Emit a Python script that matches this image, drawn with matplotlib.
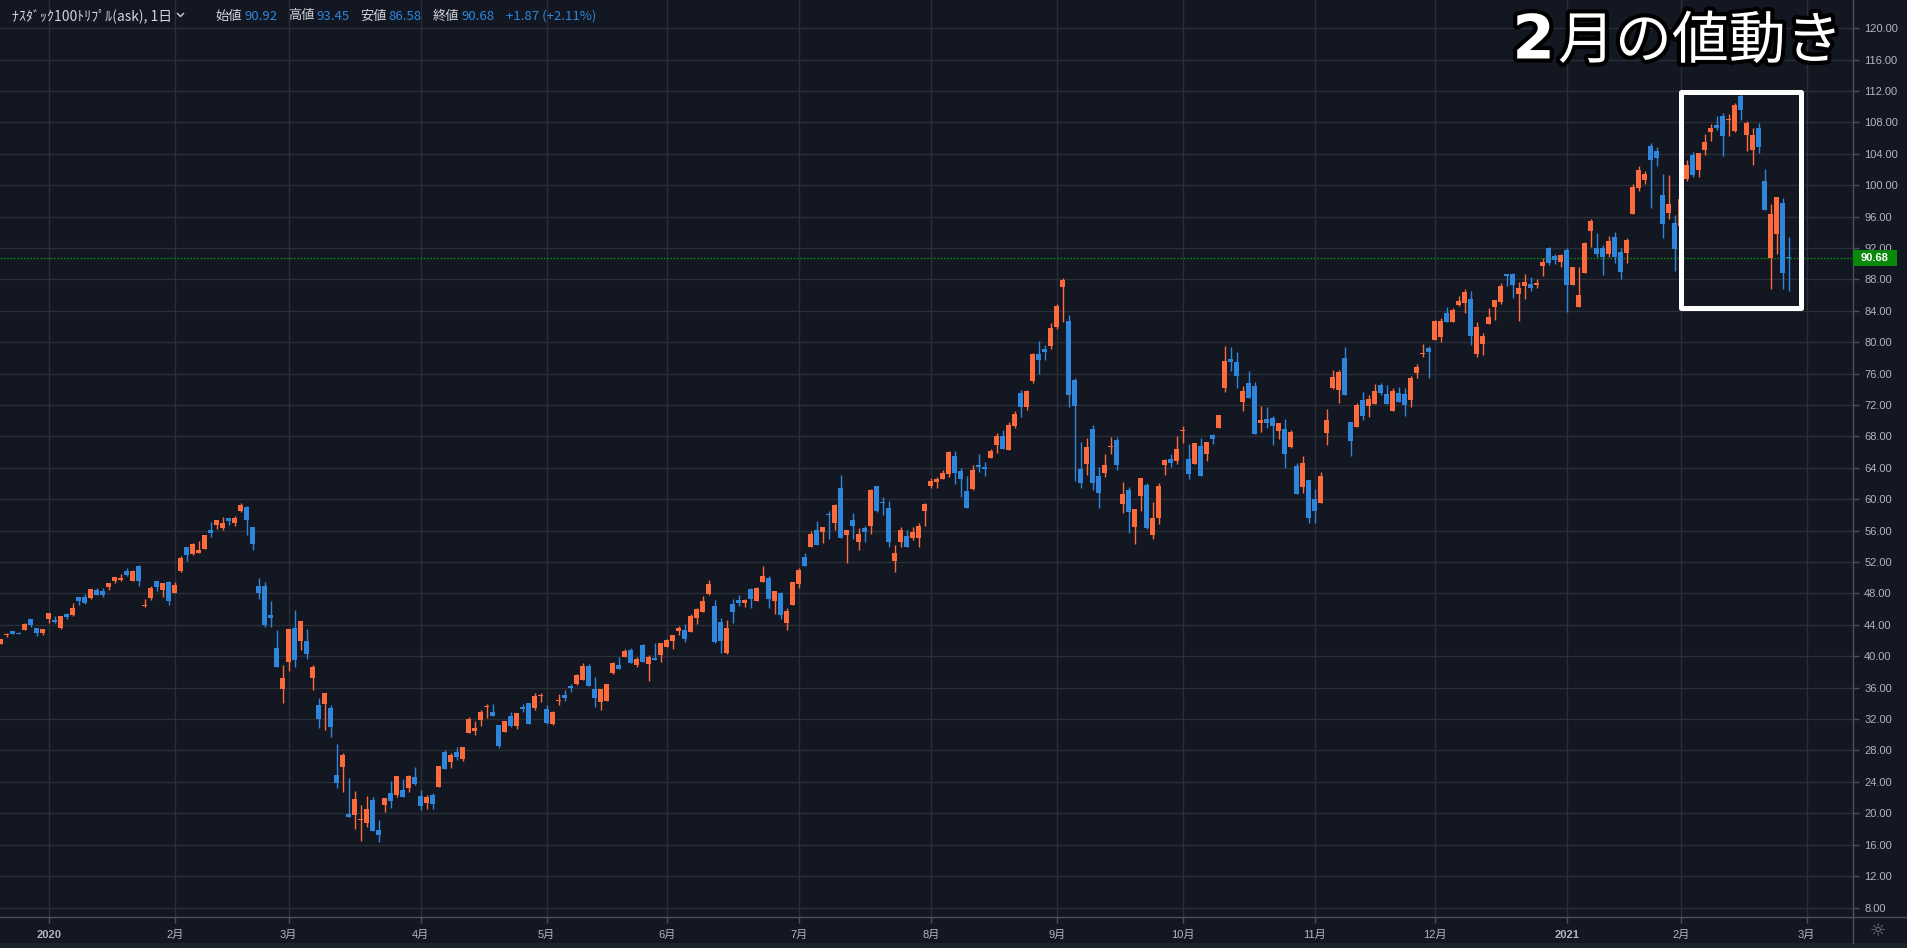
import numpy as np
import matplotlib
matplotlib.use('Agg')
import matplotlib.pyplot as plt
from matplotlib.patches import Rectangle
from matplotlib.lines import Line2D
import matplotlib.patheffects as pe

plt.rcParams['font.family'] = ['Noto Sans CJK JP', 'DejaVu Sans']

# ---------------- data (daily OHLC, Dec-2019 .. 26-Feb-2021) ----------------
opens = [41.6, 42.72, 43.23, 43.0, 43.35, 44.76, 43.6, 42.97, 44.76, 44.63,
         43.61, 45.35, 45.27, 47.56, 47.56, 47.39, 48.41, 48.32, 48.83, 49.6,
         49.72, 50.87, 49.6, 51.51, 46.42, 47.43, 49.6, 48.45, 49.47, 48.07,
         50.87, 53.93, 53.04, 53.16, 53.67, 56.09, 56.73, 56.35, 57.62, 56.99,
         58.51, 59.02, 56.48, 48.96, 48.96, 45.27, 41.06, 35.84, 39.32, 43.61,
         41.95, 41.95, 37.24, 33.8, 33.93, 33.42, 24.88, 25.9, 19.92, 19.79,
         19.2, 18.77, 21.7, 17.88, 21.06, 22.59, 22.34, 22.97, 23.23, 24.63,
         22.21, 21.32, 22.34, 23.35, 27.81, 26.54, 27.81, 26.92, 30.23, 30.49,
         31.89, 33.57, 32.93, 31.28, 30.39, 32.42, 31.15, 33.57, 34.08, 33.44,
         34.93, 33.32, 31.41, 34.3, 35.1, 36.25, 36.5, 37.01, 38.79, 35.86,
         34.21, 34.34, 37.9, 38.92, 39.94, 40.83, 38.92, 41.47, 39.05, 39.81,
         40.2, 41.22, 41.98, 43.25, 43.38, 43.13, 44.91, 45.67, 47.97, 46.44,
         44.4, 40.4, 46.6, 47.11, 46.73, 48.51, 46.98, 49.4, 49.91, 46.98,
         48.0, 44.3, 46.47, 49.27, 52.71, 53.86, 56.03, 55.77, 58.05, 57.04,
         61.38, 55.39, 57.3, 54.62, 56.28, 56.54, 61.63, 59.65, 58.83, 52.08,
         54.62, 55.26, 55.01, 55.01, 58.57, 61.63, 62.14, 62.52, 63.16, 65.45,
         63.58, 61.04, 61.29, 64.35, 64.1, 65.24, 66.9, 68.04, 66.26, 69.32,
         73.52, 71.74, 75.05, 78.49, 79.13, 79.5, 81.93, 87.02, 82.69, 75.18,
         63.84, 64.48, 68.93, 62.95, 63.33, 66.72, 67.53, 59.38, 61.16, 56.45,
         60.4, 61.8, 55.43, 57.6, 64.35, 65.11, 64.86, 68.75, 65.11, 64.48,
         66.79, 65.78, 68.2, 69.09, 74.18, 77.88, 77.49, 72.4, 74.82, 74.44,
         69.72, 70.23, 70.36, 68.7, 68.96, 66.67, 64.25, 61.57, 62.46, 60.04,
         59.53, 68.45, 74.18, 73.93, 78.0, 69.85, 69.21, 72.65, 71.89, 72.14,
         74.56, 73.42, 71.25, 73.55, 73.42, 72.65, 76.1, 78.55, 79.28, 80.3,
         80.67, 83.69, 82.54, 84.71, 84.96, 85.47, 78.46, 79.74, 82.28, 84.45,
         85.09, 88.65, 88.65, 86.11, 87.13, 87.38, 87.25, 89.67, 91.97, 90.95,
         90.18, 91.71, 87.25, 84.45, 88.78, 94.13, 92.05, 92.05, 91.2, 93.37,
         91.55, 91.41, 96.37, 99.69, 100.7, 105.04, 104.4, 98.79, 96.5, 95.23,
         94.76, 100.83, 103.89, 101.98, 104.53, 106.82, 107.71, 108.86, 108.35, 106.95,
         111.41, 106.44, 104.53, 107.33, 100.58, 90.77, 93.83, 97.78, 90.92]
highs = [42.2, 42.97, 43.23, 43.08, 44.25, 44.76, 43.6, 43.48, 45.52, 45.18,
         45.14, 45.52, 46.79, 47.56, 47.94, 48.58, 48.7, 48.75, 49.34, 50.11,
         50.49, 51.25, 51.04, 51.63, 47.3, 48.96, 49.6, 49.34, 49.6, 49.47,
         52.78, 53.93, 54.44, 54.69, 55.46, 57.11, 57.37, 57.75, 57.62, 57.88,
         59.53, 59.15, 56.48, 49.98, 49.47, 47.05, 43.35, 38.9, 43.48, 45.9,
         44.5, 43.48, 38.9, 34.69, 35.33, 33.8, 28.83, 27.69, 24.5, 22.85,
         21.06, 22.2, 22.08, 19.15, 21.95, 24.12, 24.76, 24.37, 24.88, 25.9,
         22.97, 22.34, 22.59, 26.03, 28.07, 27.69, 28.45, 28.45, 32.27, 31.76,
         33.16, 33.95, 33.95, 31.28, 31.79, 32.93, 32.8, 33.95, 34.08, 35.35,
         35.35, 33.83, 33.06, 35.23, 35.74, 36.5, 37.77, 39.18, 39.05, 37.39,
         35.86, 36.5, 39.3, 39.94, 40.96, 41.09, 39.94, 41.6, 40.2, 41.73,
         41.72, 42.23, 42.74, 43.89, 44.14, 45.42, 46.18, 47.71, 49.75, 47.2,
         44.94, 44.56, 47.24, 47.87, 47.24, 48.76, 48.89, 51.44, 50.29, 48.38,
         48.13, 46.09, 49.4, 51.31, 53.1, 55.9, 57.17, 56.41, 58.45, 59.34,
         63.03, 56.15, 58.19, 56.28, 56.66, 61.25, 61.63, 60.23, 59.72, 54.24,
         56.41, 56.03, 56.41, 57.04, 59.47, 62.65, 62.9, 63.67, 66.09, 66.09,
         63.97, 62.95, 64.35, 65.75, 64.73, 66.39, 68.42, 68.81, 69.83, 71.23,
         73.9, 73.9, 78.62, 80.14, 79.63, 82.44, 84.86, 88.17, 83.46, 75.43,
         67.28, 67.79, 69.44, 64.09, 65.75, 67.92, 67.92, 62.18, 61.54, 58.74,
         62.69, 62.05, 59.64, 62.05, 65.11, 65.75, 68.04, 69.32, 67.02, 67.15,
         67.81, 67.3, 68.32, 70.74, 79.53, 79.41, 78.77, 74.44, 76.35, 74.95,
         71.89, 71.76, 70.62, 69.72, 70.23, 68.83, 64.63, 65.52, 62.46, 61.32,
         63.48, 71.51, 76.48, 76.48, 79.41, 69.85, 72.27, 73.67, 73.29, 74.69,
         74.82, 74.56, 74.18, 74.31, 74.18, 75.71, 77.24, 79.79, 79.53, 82.85,
         83.05, 84.45, 84.32, 85.85, 86.74, 86.49, 82.54, 81.14, 84.32, 85.34,
         87.5, 88.65, 88.78, 87.63, 88.65, 88.27, 88.0, 90.69, 92.1, 91.2,
         91.2, 91.97, 89.55, 89.55, 92.73, 95.75, 93.88, 92.35, 93.49, 94.0,
         91.95, 93.32, 100.2, 102.49, 101.85, 105.42, 104.91, 101.47, 101.34, 96.24,
         98.5, 103.25, 104.27, 104.14, 106.56, 107.84, 108.86, 109.24, 109.1, 110.51,
         111.66, 108.22, 107.33, 107.97, 102.11, 97.65, 98.54, 98.41, 93.45]
lows = [41.6, 42.5, 42.85, 42.9, 43.35, 43.78, 42.6, 42.7, 44.3, 44.29,
        43.53, 44.76, 45.14, 46.54, 46.67, 47.3, 47.81, 47.56, 48.45, 49.38,
        49.6, 50.23, 49.6, 48.96, 46.33, 47.18, 48.32, 47.56, 46.54, 48.07,
        50.74, 52.14, 52.91, 53.16, 53.67, 55.2, 56.22, 56.09, 56.73, 56.6,
        58.39, 55.46, 53.55, 47.3, 43.78, 43.78, 38.68, 34.1, 38.17, 38.68,
        40.8, 39.66, 35.71, 30.87, 30.62, 29.72, 23.23, 22.72, 19.53, 18.0,
        16.48, 18.26, 17.75, 16.35, 20.17, 20.68, 22.08, 22.08, 22.72, 23.61,
        20.42, 20.55, 20.55, 23.35, 25.65, 25.77, 26.79, 26.67, 30.23, 29.98,
        31.13, 32.17, 32.42, 28.35, 30.39, 31.02, 30.77, 32.93, 31.41, 33.19,
        34.2, 31.41, 31.28, 33.83, 34.34, 35.48, 36.37, 37.01, 36.25, 33.57,
        33.19, 34.34, 37.77, 38.41, 39.94, 39.18, 38.67, 39.3, 36.88, 39.56,
        39.3, 41.22, 40.96, 42.74, 41.85, 43.13, 44.14, 45.67, 47.84, 41.73,
        40.4, 40.3, 44.3, 46.35, 46.22, 46.09, 46.98, 49.4, 46.09, 45.45,
        44.81, 43.29, 46.47, 48.76, 51.44, 53.86, 54.24, 54.37, 55.0, 56.03,
        55.13, 51.82, 54.88, 53.6, 54.62, 55.64, 58.32, 57.94, 53.86, 50.68,
        53.86, 53.86, 54.75, 53.86, 56.54, 61.38, 61.38, 62.52, 62.78, 62.01,
        60.27, 58.87, 61.16, 63.46, 62.95, 65.24, 65.88, 66.39, 66.26, 69.06,
        70.46, 71.35, 74.79, 75.94, 77.72, 79.13, 81.67, 82.56, 71.74, 62.31,
        61.42, 63.07, 61.16, 58.87, 62.82, 65.75, 63.71, 58.23, 55.69, 54.28,
        58.49, 56.2, 54.92, 56.83, 63.07, 64.09, 64.48, 67.15, 62.56, 64.48,
        62.97, 64.88, 67.05, 69.09, 73.67, 76.35, 74.18, 71.25, 72.91, 68.32,
        68.58, 69.09, 66.92, 67.69, 63.99, 66.54, 60.68, 60.81, 56.99, 56.99,
        59.53, 66.92, 74.06, 72.27, 73.29, 65.52, 69.21, 70.11, 70.49, 72.14,
        73.29, 72.14, 71.25, 72.4, 70.62, 71.76, 75.46, 78.13, 75.46, 80.3,
        80.03, 82.54, 82.54, 84.58, 83.69, 79.61, 78.08, 78.34, 82.28, 82.79,
        84.83, 87.12, 85.6, 82.67, 85.47, 86.49, 86.87, 88.4, 89.8, 89.93,
        89.55, 83.81, 87.25, 84.45, 88.78, 92.1, 90.9, 88.53, 90.82, 90.06,
        88.0, 90.13, 96.37, 99.3, 100.2, 97.14, 102.49, 93.32, 95.74, 89.11,
        94.2, 100.58, 101.09, 101.09, 103.89, 105.67, 107.07, 103.76, 106.3, 106.82,
        108.35, 104.4, 102.62, 104.14, 96.88, 86.82, 91.28, 86.82, 86.58]
closes = [42.2, 42.78, 42.85, 42.9, 44.12, 43.95, 42.97, 43.48, 45.52, 44.33,
          45.14, 45.01, 46.16, 47.05, 46.79, 48.58, 47.81, 47.77, 49.34, 50.11,
          50.02, 50.36, 50.87, 49.6, 46.48, 48.7, 48.83, 49.34, 47.09, 49.09,
          52.53, 52.91, 54.31, 53.55, 55.46, 55.71, 57.37, 56.98, 57.24, 57.62,
          59.28, 57.37, 54.31, 48.03, 43.99, 44.93, 38.68, 37.24, 43.48, 39.53,
          44.5, 40.3, 38.64, 32.02, 35.33, 31.0, 23.86, 27.43, 19.53, 21.83,
          19.28, 20.55, 17.75, 17.24, 21.95, 21.57, 24.76, 22.08, 24.76, 23.74,
          20.93, 22.08, 21.19, 26.03, 25.65, 27.43, 27.18, 28.45, 32.0, 30.87,
          32.91, 33.65, 32.42, 28.6, 31.79, 31.15, 32.8, 33.32, 31.41, 34.97,
          35.01, 31.53, 32.93, 34.38, 34.72, 35.99, 37.65, 38.79, 36.25, 34.72,
          35.86, 36.5, 39.18, 38.41, 40.71, 39.18, 39.69, 39.3, 39.94, 39.56,
          41.72, 42.11, 42.74, 43.63, 42.23, 45.16, 46.06, 47.07, 49.24, 41.85,
          42.0, 43.54, 45.7, 46.73, 47.11, 47.24, 48.76, 50.17, 47.24, 48.38,
          45.32, 45.83, 49.4, 50.93, 51.44, 55.64, 54.24, 56.41, 57.95, 59.21,
          55.13, 56.03, 56.54, 55.64, 55.77, 61.12, 58.57, 59.55, 54.5, 53.22,
          56.15, 53.86, 55.77, 56.66, 59.34, 62.39, 62.52, 63.29, 65.96, 63.41,
          62.56, 58.87, 63.71, 64.09, 63.85, 66.13, 68.04, 66.39, 69.44, 70.84,
          71.74, 73.78, 78.49, 77.72, 78.74, 81.8, 84.6, 87.92, 73.27, 71.86,
          62.06, 66.64, 62.06, 60.78, 64.35, 66.82, 64.35, 60.65, 58.36, 58.74,
          62.69, 56.32, 57.6, 61.67, 64.99, 64.6, 66.39, 68.85, 63.2, 67.15,
          62.97, 67.3, 67.69, 70.74, 77.62, 77.49, 75.71, 73.8, 72.91, 68.32,
          70.1, 69.72, 69.34, 69.72, 65.78, 68.58, 60.68, 64.63, 57.62, 58.51,
          62.97, 70.11, 75.58, 76.22, 73.29, 67.43, 72.02, 70.62, 72.78, 73.8,
          73.55, 72.14, 73.8, 72.4, 72.02, 75.46, 76.86, 78.65, 78.77, 82.72,
          82.67, 82.54, 84.07, 85.21, 86.36, 80.76, 81.9, 80.76, 83.18, 85.34,
          87.12, 88.4, 87.25, 86.87, 87.63, 86.87, 87.5, 90.18, 90.06, 90.44,
          91.07, 87.25, 89.55, 85.98, 92.6, 95.49, 91.2, 90.9, 92.86, 90.82,
          89.0, 93.06, 99.81, 101.98, 101.47, 103.25, 103.5, 95.1, 97.65, 91.92,
          98.28, 102.62, 101.34, 104.14, 105.55, 107.33, 107.33, 106.31, 108.45, 110.26,
          109.62, 107.97, 106.44, 104.91, 96.88, 96.37, 98.54, 88.81, 90.68]

month_tick_index = [8, 29, 48, 70, 91, 111, 133, 155, 176, 197, 219, 239, 261, 280, 301]
month_tick_labels = ['2020', '2月', '3月', '4月', '5月', '6月', '7月', '8月',
                     '9月', '10月', '11月', '12月', '2021', '2月', '3月']
price_ticks = list(range(8, 121, 4))
last_price = 90.68
header_name = 'ﾅｽﾀﾞｯｸ100ﾄﾘﾌﾟﾙ(ask), 1日'
header_fields = [('始値', '90.92'), ('高値', '93.45'), ('安値', '86.58'), ('終値', '90.68')]
header_change = '+1.87 (+2.11%)'
title_text = ('2', '月の値動き')
highlight_x = (280.0, 300.0)
highlight_y = (84.34, 111.91)

# ---------------- style ----------------
W, H = 1907, 948
BG = '#131722'
GRID = '#2a2e39'
AXLINE = '#4c505b'
TXT = '#b2b5be'
UP = '#fd6a3c'
DOWN = '#2d86db'
GREEN = '#0a8a0a'

fig = plt.figure(figsize=(W / 100, H / 100), dpi=100, facecolor=BG)
ax = fig.add_axes([0, 31 / H, 1853 / W, 917 / H])
ax.set_facecolor(BG)

o = np.array(opens); h = np.array(highs); l = np.array(lows); c = np.array(closes)
h = np.maximum(h, np.maximum(o, c)); l = np.minimum(l, np.minimum(o, c))
x = np.arange(len(c))
up = c >= o
colors = np.where(up, UP, DOWN)

ax.vlines(x, l, h, colors=colors, linewidth=1.0, zorder=3)
body_bottom = np.minimum(o, c)
body_h = np.maximum(np.abs(c - o), 0.13)
ax.bar(x, body_h, bottom=body_bottom, width=0.8, color=colors, linewidth=0, zorder=4)

ax.set_xlim(-0.117, 308.72)
ax.set_ylim(6.79, 123.6)

ax.set_yticks(price_ticks)
ax.set_yticklabels(['%.2f' % v for v in price_ticks])
ax.yaxis.tick_right()
ax.set_xticks(month_tick_index)
ax.set_xticklabels(month_tick_labels)
ax.grid(True, color=GRID, linewidth=1.0, zorder=0)
ax.tick_params(axis='y', colors=AXLINE, labelcolor=TXT, length=4, width=1, pad=4, labelsize=8)
ax.tick_params(axis='x', colors=AXLINE, labelcolor=TXT, length=4, width=1, pad=5, labelsize=8)
for lab in ax.get_yticklabels():
    lab.set_family(['Liberation Sans', 'DejaVu Sans'])
for lab in ax.get_xticklabels():
    lab.set_family(['Liberation Sans', 'Noto Sans CJK JP'])
    if lab.get_text() in ('2020', '2021'):
        lab.set_fontweight('bold')
for side in ('top', 'left'):
    ax.spines[side].set_visible(False)
for side in ('right', 'bottom'):
    ax.spines[side].set_color(AXLINE)
    ax.spines[side].set_linewidth(1.0)

# last price line
ax.axhline(last_price, color=GREEN, linestyle=(0, (1.2, 1.2)), linewidth=1.0, zorder=2)

# highlight box
ax.add_patch(Rectangle((highlight_x[0], highlight_y[0]), highlight_x[1] - highlight_x[0],
                       highlight_y[1] - highlight_y[0], fill=False, edgecolor='white',
                       linewidth=3.6, joinstyle='round', zorder=6, clip_on=False))

def fx(px):
    return px / W

def fy(py):
    return 1 - py / H

# price label box on axis
fig.patches.append(Rectangle((fx(1853), fy(266)), 44 / W, 16 / H, transform=fig.transFigure,
                             facecolor=GREEN, edgecolor='none', figure=fig, zorder=5))
fig.text(fx(1875), fy(258), '%.2f' % last_price, color='white', fontsize=8, fontweight='bold',
         family=['Liberation Sans', 'DejaVu Sans'], ha='center', va='center', zorder=6)

# bottom-right corner separator + icon
fig.add_artist(Line2D([fx(1853), fx(1853)], [fy(917), fy(943)], color=AXLINE, linewidth=1.0))
fig.add_artist(Line2D([fx(1853), 1], [fy(917), fy(917)], color=AXLINE, linewidth=1.0))
fig.patches.append(Rectangle((0, 0), 1, 5 / H, transform=fig.transFigure,
                             facecolor='#1e222d', edgecolor='none', figure=fig))
fig.text(fx(1878), fy(931), '☼', color='#787b86', fontsize=13, family=['DejaVu Sans'],
         ha='center', va='center')

# header
LIGHT = '#d1d4dc'
fs = 9.5
fig.text(fx(11.5), fy(16), header_name, color=LIGHT, fontsize=10.0, ha='left', va='center')
fig.add_artist(Line2D([fx(177.5), fx(180.5), fx(183.5)], [fy(13.5), fy(16.5), fy(13.5)],
                      color=LIGHT, linewidth=1.0))
label_x = [215.5, 288, 360, 432.5]
value_x = [244, 316, 388, 461]
for (lab, val), lx, vx in zip(header_fields, label_x, value_x):
    fig.text(fx(lx), fy(16), lab, color=LIGHT, fontsize=fs, ha='left', va='center')
    fig.text(fx(vx), fy(16), val, color=DOWN, fontsize=fs, ha='left', va='center')
fig.text(fx(506), fy(16), header_change, color=DOWN, fontsize=fs, ha='left', va='center')

# title
stroke = [pe.withStroke(linewidth=6, foreground='black')]
t2 = fig.text(fx(1843), fy(42), title_text[1], color='white', fontsize=41, fontweight='normal',
              ha='right', va='center', path_effects=stroke, zorder=10)
fig.canvas.draw()
bb = t2.get_window_extent()
fig.text(bb.x0 / W - 3 / W, fy(42), title_text[0], color='white', fontsize=44, fontweight='heavy',
         family=['DejaVu Sans'], ha='right', va='center', path_effects=stroke, zorder=10)

fig.savefig('out.png', dpi=100, facecolor=BG)
